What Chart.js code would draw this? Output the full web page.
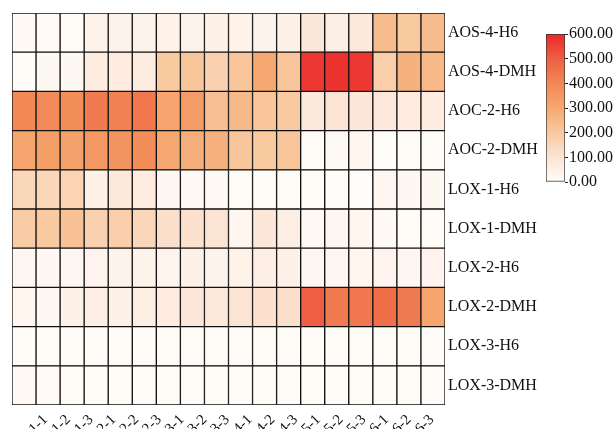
<!DOCTYPE html>
<html>
<head>
<meta charset="utf-8">
<script src="https://cdn.jsdelivr.net/npm/chart.js@4/dist/chart.umd.min.js"></script>
<style>
  html, body { margin: 0; padding: 0; background: #ffffff; }
  #wrap { position: relative; width: 616px; height: 429px; }
  canvas { position: absolute; left: 0; top: 0; }
  #bar { pointer-events: none; }
</style>
</head>
<body>
<div id="wrap">
  <canvas id="main" width="616" height="429"></canvas>
  <canvas id="bar" width="616" height="429"></canvas>
</div>
<script>
// ---- data ----
const columns = ['1-1','1-2','1-3','2-1','2-2','2-3','3-1','3-2','3-3','4-1','4-2','4-3','5-1','5-2','5-3','6-1','6-2','6-3'];
const rows = ['AOS-4-H6','AOS-4-DMH','AOC-2-H6','AOC-2-DMH','LOX-1-H6','LOX-1-DMH','LOX-2-H6','LOX-2-DMH','LOX-3-H6','LOX-3-DMH'];

const aos4H6   = [15, 12, 10, 40, 40, 40, 45, 40, 50, 45, 40, 50, 85, 60, 80, 240, 200, 240];
const aos4DMH  = [10, 20, 20, 70, 70, 65, 200, 210, 170, 210, 300, 210, 570, 580, 570, 180, 270, 250];
const aoc2H6   = [400, 390, 380, 430, 420, 440, 310, 340, 230, 250, 210, 200, 80, 100, 90, 80, 70, 70];
const aoc2DMH  = [310, 330, 320, 350, 360, 380, 300, 280, 270, 210, 200, 210, 10, 15, 30, 0, 5, 10];
const lox1H6   = [150, 150, 160, 50, 80, 70, 20, 15, 15, 5, 5, 10, 10, 3, 3, 25, 20, 20];
const lox1DMH  = [190, 200, 220, 170, 180, 150, 120, 110, 100, 30, 90, 60, 15, 25, 30, 15, 10, 8];
const lox2H6   = [25, 20, 25, 35, 40, 40, 35, 50, 40, 45, 55, 50, 25, 25, 30, 35, 25, 35];
const lox2DMH  = [30, 20, 50, 55, 50, 60, 70, 90, 80, 100, 110, 120, 500, 430, 440, 460, 430, 310];
const lox3H6   = [8, 6, 6, 8, 6, 6, 8, 6, 6, 5, 5, 6, 6, 6, 6, 8, 6, 8];
const lox3DMH  = [15, 12, 10, 10, 10, 12, 8, 10, 8, 8, 8, 8, 8, 8, 8, 10, 8, 10];

const rowValues = [aos4H6, aos4DMH, aoc2H6, aoc2DMH, lox1H6, lox1DMH, lox2H6, lox2DMH, lox3H6, lox3DMH];

const scaleMin = 0;
const scaleMax = 600;
const scaleTicks = [0, 100, 200, 300, 400, 500, 600];

// ---- colour scale ----
const stops = [
  [0,   [255, 253, 250]],
  [100, [252, 228, 212]],
  [200, [249, 201, 160]],
  [300, [245, 168, 112]],
  [400, [242, 136, 86]],
  [500, [239, 94, 66]],
  [600, [236, 40, 42]]
];
function colorFor(v) {
  v = Math.max(scaleMin, Math.min(scaleMax, v));
  for (let i = 1; i < stops.length; i++) {
    if (v <= stops[i][0]) {
      const [a, ca] = stops[i - 1];
      const [b, cb] = stops[i];
      const t = (v - a) / (b - a);
      const c = ca.map((x, k) => Math.round(x + (cb[k] - x) * t));
      return `rgb(${c[0]},${c[1]},${c[2]})`;
    }
  }
  const c = stops[stops.length - 1][1];
  return `rgb(${c[0]},${c[1]},${c[2]})`;
}

const FONT = "'Liberation Serif', 'Times New Roman', serif";

// stacked bars: bottom row first
const datasets = [];
for (let r = rows.length - 1; r >= 0; r--) {
  datasets.push({
    label: rows[r],
    data: columns.map(() => 1),
    values: rowValues[r],
    backgroundColor: rowValues[r].map(colorFor),
    borderColor: '#111111',
    borderWidth: 1,
    borderSkipped: false,
    barPercentage: 1,
    categoryPercentage: 1
  });
}

new Chart(document.getElementById('main'), {
  type: 'bar',
  data: { labels: columns, datasets },
  options: {
    responsive: false,
    animation: false,
    events: [],
    layout: { padding: { left: 12, top: 13, right: 0, bottom: 0 } },
    plugins: { legend: { display: false }, tooltip: { enabled: false } },
    scales: {
      x: {
        stacked: true,
        display: false
      },
      // label axis: tick i sits near the right edge of column i (as in the reference)
      xLabels: {
        type: 'linear',
        position: 'bottom',
        min: -0.95,
        max: columns.length - 0.95,
        afterBuildTicks: s => { s.ticks = columns.map((c, i) => ({ value: i })); },
        grid: { display: false, drawTicks: false },
        border: { display: false },
        ticks: {
          autoSkip: false, minRotation: 45, maxRotation: 45, padding: 6,
          color: '#111', font: { family: FONT, size: 15 },
          callback: v => columns[v]
        },
        afterFit: s => { s.height = 24; }
      },
      y: {
        stacked: true, min: 0, max: rows.length, display: false
      },
      y2: {
        type: 'category',
        labels: rows,
        offset: true,
        position: 'right',
        grid: { display: false, drawTicks: false },
        border: { display: false },
        ticks: { padding: 3, color: '#111', font: { family: FONT, size: 16 } },
        afterFit: s => { s.width = 171; }
      }
    }
  }
});

// ---- colour bar ----
new Chart(document.getElementById('bar'), {
  type: 'bar',
  data: {
    labels: [''],
    datasets: [{
      data: [[scaleMin, scaleMax]],
      backgroundColor: (ctx) => {
        const area = ctx.chart.chartArea;
        if (!area) return '#fff';
        const g = ctx.chart.ctx.createLinearGradient(0, area.bottom, 0, area.top);
        stops.forEach(([v, c]) => g.addColorStop((v - scaleMin) / (scaleMax - scaleMin), `rgb(${c[0]},${c[1]},${c[2]})`));
        return g;
      },
      borderColor: '#333',
      borderWidth: 1,
      borderSkipped: false,
      barPercentage: 1,
      categoryPercentage: 1
    }]
  },
  options: {
    responsive: false,
    animation: false,
    events: [],
    layout: { padding: { left: 546, top: 34, bottom: 247, right: 0 } },
    plugins: { legend: { display: false }, tooltip: { enabled: false } },
    scales: {
      x: { display: false },
      y: {
        position: 'right',
        min: scaleMin, max: scaleMax,
        afterBuildTicks: s => { s.ticks = scaleTicks.map(v => ({ value: v })); },
        grid: { drawOnChartArea: false, drawTicks: true, tickLength: 3, color: '#222', lineWidth: 1 },
        border: { display: false },
        ticks: {
          padding: 1, color: '#111', font: { family: FONT, size: 16 },
          callback: v => Number(v).toFixed(2)
        },
        afterFit: s => { s.width = 51; }
      }
    }
  }
});
</script>
</body>
</html>
